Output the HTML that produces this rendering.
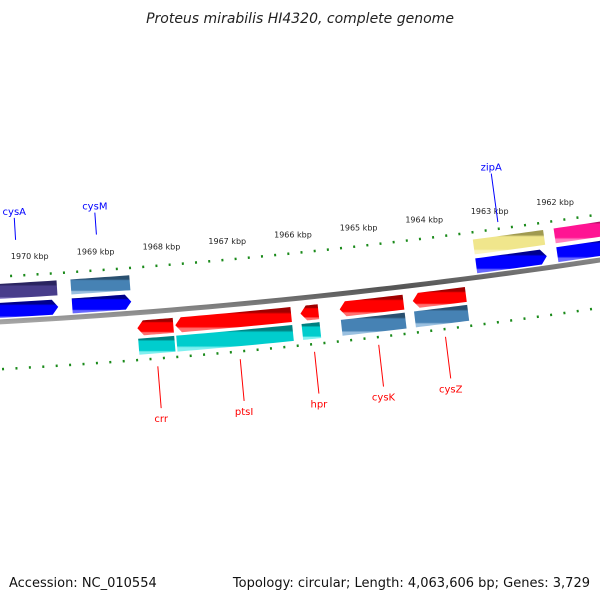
<!DOCTYPE html>
<html><head><meta charset="utf-8"><style>
html,body{margin:0;padding:0;background:#fff;}
svg{display:block;font-family:"DejaVu Sans","Liberation Sans",sans-serif;}
</style></head><body>
<svg id="chart" width="600" height="600" viewBox="0 0 600 600" xmlns="http://www.w3.org/2000/svg">
<defs id="defs"></defs>
<text x="300" y="23" text-anchor="middle" font-size="14" font-style="italic" fill="#222">Proteus mirabilis HI4320, complete genome</text>
<text x="9" y="587" font-size="13" fill="#111">Accession: NC_010554</text>
<text x="590" y="587" text-anchor="end" font-size="13" fill="#111">Topology: circular; Length: 4,063,606 bp; Genes: 3,729</text>
<g id="plot"></g>
</svg>
<script>
const tickKbp=[1970,1969,1968,1967,1966,1965,1964,1963,1962];
const tickLabels=["1970 kbp","1969 kbp","1968 kbp","1967 kbp","1966 kbp","1965 kbp","1964 kbp","1963 kbp","1962 kbp"];
const geneNames=["cysA","cysM","zipA","geneX","crr","ptsI","hpr","cysK","cysZ"];
const geneStart=[1971.2,1969.41,1963.31,1962.08,1968.46,1967.89,1966.01,1965.42,1964.32];
const geneEnd=[1969.62,1968.52,1962.24,1960.9,1967.92,1966.15,1965.74,1964.46,1963.52];
const geneStrand=[1,1,1,1,-1,-1,-1,-1,-1];
const geneCog=["slate","steel","khaki","pink","cyan","cyan","cyan","steel","steel"];
const geneLabelKbp=[1970.2,1968.97,1962.9,null,1968.2,1966.97,1965.86,1964.9,1963.9];

const NS="http://www.w3.org/2000/svg";
const Cx=-361,Cy=-6118,R=6450,phi0=0.06123,kRad=0.01034;
function ang(kbp){return phi0+(1970-kbp)*kRad;}
function pt(kbp,d){const p=ang(kbp),r=R-d;return [Cx+r*Math.sin(p),Cy+r*Math.cos(p)];}
const defs=document.getElementById('defs');
const plot=document.getElementById('plot');
function mk(tag,attrs,parent){const e=document.createElementNS(NS,tag);for(const k in attrs)e.setAttribute(k,attrs[k]);(parent||plot).appendChild(e);return e;}
const colors={blue:["#00008b","#0000ff","#6666ff"],red:["#a00000","#ff0000","#ff7070"],slate:["#2a2460","#483d8b","#8a80c8"],steel:["#2a5070","#4682b4","#9ac0e0"],khaki:["#a09a50","#f0e68c","#faf4c0"],pink:["#a0105a","#ff1493","#ff80c0"],cyan:["#008080","#00cdcd","#80f0f0"]};
for(const c in colors){const g=mk('linearGradient',{id:'g-'+c,x1:0,y1:0,x2:0,y2:1},defs);const v=colors[c];
[[0,v[0]],[0.2,v[0]],[0.28,v[1]],[0.78,v[1]],[0.85,v[2]],[1,v[2]]].forEach(s=>mk('stop',{offset:s[0],'stop-color':s[1]},g));}
const bg=mk('linearGradient',{id:'g-bb',x1:0,y1:0,x2:0,y2:1},defs);
[[0,'#9a9a9a'],[0.5,'#555'],[1,'#b0b0b0']].forEach(s=>mk('stop',{offset:s[0],'stop-color':s[1]},bg));

function arcPts(k1,k2,d,n){const a=[];for(let i=0;i<=n;i++){a.push(pt(k1+(k2-k1)*i/n,d));}return a;}
function poly(pts){return pts.map(p=>p[0].toFixed(2)+','+p[1].toFixed(2)).join(' ');}

let bb=arcPts(1971.5,1960.5,2.5,40).concat(arcPts(1960.5,1971.5,-2.5,40));
const bbe=mk('polygon',{points:poly(bb),fill:'url(#g-bb)'});



function ticks(d0,d1,dm0,dm1,name){
  for(let b=19715;b>=19604;b-=2){
    const kb=b/10;const major=(b%10===0);
    const a=pt(kb,major?d0:dm0),c=pt(kb,major?d1:dm1);
    const t=mk('line',{x1:a[0],y1:a[1],x2:c[0],y2:c[1],stroke:'#1a8a1a','stroke-width':2});
    
    
  }
}
ticks(42,49,44,46.5,'outer');
ticks(-44,-51,-46,-48.5,'inner');
tickKbp.forEach((kb,i)=>{const p=pt(kb,64);
  const t=mk('text',{x:p[0],y:p[1]+3,'text-anchor':'middle','font-size':'8',fill:'#222'});t.textContent=tickLabels[i];
  
  
});

const head=0.09;
geneNames.forEach((nm,i)=>{
  const s=geneStart[i],e=geneEnd[i],fw=geneStrand[i]>0;
  let arrowPts,boxPts,ad0,ad1,bd0,bd1,arrowCol;
  if(fw){ad0=4;ad1=19;bd0=23;bd1=38;arrowCol='blue';
    const hb=e+head;
    arrowPts=arcPts(s,hb,ad1,12).concat([pt(e,(ad0+ad1)/2)]).concat(arcPts(hb,s,ad0,12));
  }else{ad0=-8;ad1=-23;bd0=-26;bd1=-42;arrowCol='red';
    const hb=s-head;
    arrowPts=[pt(s,(ad0+ad1)/2)].concat(arcPts(hb,e,ad0,12)).concat(arcPts(e,hb,ad1,12));
  }
  boxPts=arcPts(s,e,Math.max(bd0,bd1),12).concat(arcPts(e,s,Math.min(bd0,bd1),12));
  const g=mk('g',{});
  
  
  const a=mk('polygon',{points:poly(arrowPts),fill:'url(#g-'+arrowCol+')'},g);
  
  
  const b=mk('polygon',{points:poly(boxPts),fill:'url(#g-'+geneCog[i]+')'},g);
  
  
  if(geneLabelKbp[i]!==null){
    const mid=geneLabelKbp[i];const col=fw?'#0000ff':'#ff0000';
    const p1=fw?pt(mid,nm==='zipA'?52:81):pt(mid,-55);
    const p2=fw?pt(mid,nm==='zipA'?101:103):pt(mid,-97);
    const ln=mk('line',{x1:p1[0],y1:p1[1],x2:p2[0],y2:p2[1],stroke:col,'stroke-width':1},g);
    
    
    const tx=mk('text',{x:p2[0],y:fw?p2[1]-3:p2[1]+14,'text-anchor':'middle','font-size':'10',fill:col},g);
    tx.textContent=nm;
    
    
  }
});
</script>
</body></html>
